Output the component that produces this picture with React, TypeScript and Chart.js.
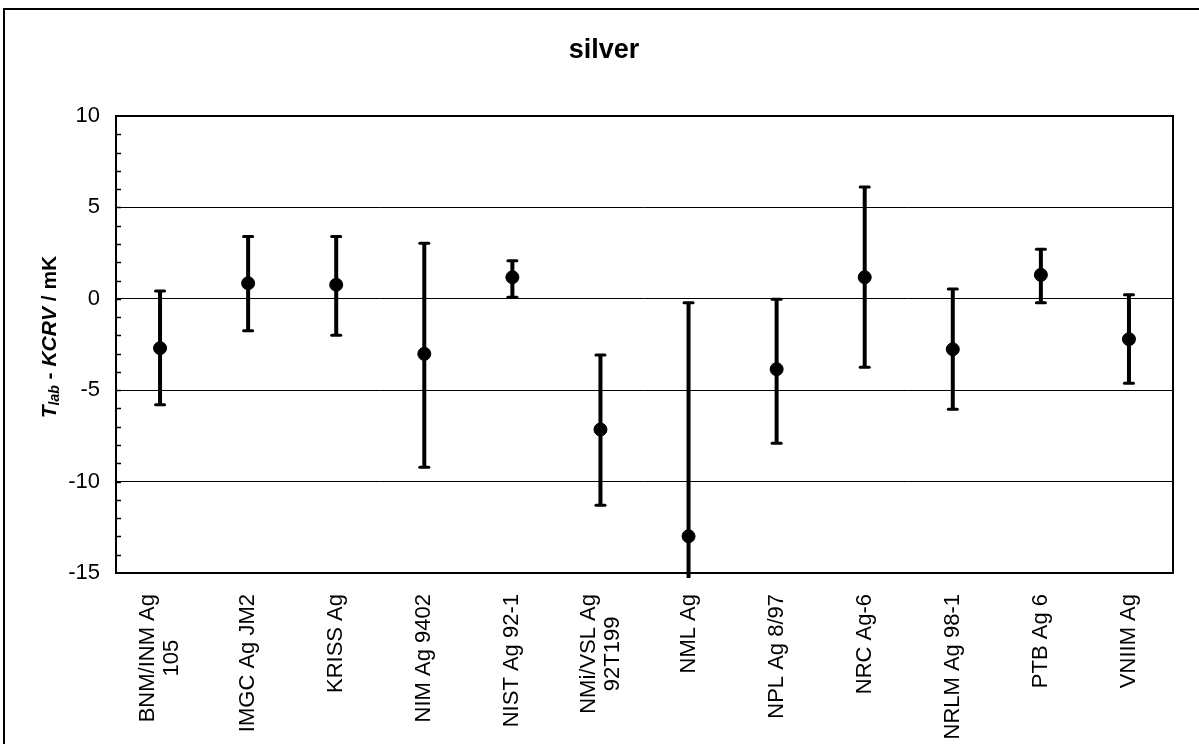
import React, { useEffect, useRef } from "react";
import { Chart, registerables } from "chart.js";

Chart.register(...registerables);

const categories: (string | string[])[] = [
  ["BNM/INM Ag", "105"],
  "IMGC Ag JM2",
  "KRISS Ag",
  "NIM Ag 9402",
  "NIST Ag 92-1",
  ["NMi/VSL Ag", "92T199"],
  "NML Ag",
  "NPL Ag 8/97",
  "NRC Ag-6",
  "NRLM Ag 98-1",
  "PTB Ag 6",
  "VNIIM Ag",
];
const values = [-2.7, 0.85, 0.77, -3.01, 1.18, -7.15, -12.99, -3.85, 1.18, -2.76, 1.31, -2.21];
const upper = [0.42, 3.41, 3.41, 3.04, 2.08, -3.08, -0.22, -0.02, 6.11, 0.53, 2.71, 0.22];
const lower = [-5.8, -1.75, -1.99, -9.21, 0.09, -11.29, -25.8, -7.9, -3.74, -6.04, -0.22, -4.62];
const yMin = -15;
const yMax = 10;
const yStep = 5;
const titleText = "silver";

const FONT = "Arial, 'Liberation Sans', sans-serif";

const customPlugin = {
  id: "custom",
  beforeDatasetsDraw(chart: any) {
    const ctx = chart.ctx;
    const x = chart.scales.x;
    const y = chart.scales.y;
    const area = chart.chartArea;
    ctx.save();
    ctx.beginPath();
    ctx.rect(area.left, area.top - 10, area.right - area.left, area.bottom - area.top + 15);
    ctx.clip();
    ctx.strokeStyle = "#000";
    for (let i = 0; i < values.length; i++) {
      const px = x.getPixelForValue(i);
      const pHi = y.getPixelForValue(upper[i]);
      const pLo = y.getPixelForValue(lower[i]);
      ctx.lineWidth = 4;
      ctx.beginPath();
      ctx.moveTo(px, pHi);
      ctx.lineTo(px, pLo);
      ctx.stroke();
      ctx.lineWidth = 3;
      ctx.lineCap = "round";
      for (const p of [pHi, pLo]) {
        if (p > area.bottom + 4) continue;
        ctx.beginPath();
        ctx.moveTo(px - 4.5, p);
        ctx.lineTo(px + 4.5, p);
        ctx.stroke();
      }
      ctx.lineCap = "butt";
    }
    ctx.restore();
  },
  afterDraw(chart: any) {
    const ctx = chart.ctx;
    const x = chart.scales.x;
    const y = chart.scales.y;
    const area = chart.chartArea;
    ctx.save();
    // plot border
    ctx.strokeStyle = "#000";
    ctx.lineWidth = 2;
    ctx.strokeRect(area.left, area.top, area.right - area.left, area.bottom - area.top);
    // minor ticks
    ctx.lineWidth = 1.5;
    for (let v = yMin + 1; v < yMax; v++) {
      const py = Math.round(y.getPixelForValue(v)) + 0.5;
      ctx.beginPath();
      ctx.moveTo(area.left, py);
      ctx.lineTo(area.left + 5, py);
      ctx.stroke();
    }
    // outer frame
    ctx.lineWidth = 2;
    ctx.beginPath();
    ctx.moveTo(4, 744);
    ctx.lineTo(4, 9);
    ctx.lineTo(1199, 9);
    ctx.stroke();
    // title
    ctx.fillStyle = "#000";
    ctx.font = `bold 27px ${FONT}`;
    ctx.textAlign = "center";
    ctx.textBaseline = "alphabetic";
    ctx.fillText(titleText, 604, 58);
    // x labels
    ctx.font = `22px ${FONT}`;
    const lineH = 24;
    for (let i = 0; i < categories.length; i++) {
      const lab = categories[i];
      const lines = Array.isArray(lab) ? lab : [lab];
      const px = x.getPixelForValue(i);
      const maxW = Math.max(...lines.map((l) => ctx.measureText(l).width));
      ctx.save();
      ctx.translate(px, 594);
      ctx.rotate(-Math.PI / 2);
      ctx.textAlign = "center";
      ctx.textBaseline = "middle";
      lines.forEach((l, k) => {
        const off = (k - (lines.length - 1) / 2) * lineH;
        ctx.fillText(l, -maxW / 2, off);
      });
      ctx.restore();
    }
    // y title
    const parts = [
      { t: "T", f: `italic bold 21px ${FONT}`, dy: 0 },
      { t: "lab", f: `italic bold 14px ${FONT}`, dy: 5 },
      { t: " - ", f: `bold 21px ${FONT}`, dy: 0 },
      { t: "KCRV", f: `italic bold 21px ${FONT}`, dy: 0 },
      { t: " / mK", f: `bold 21px ${FONT}`, dy: 0 },
    ];
    let total = 0;
    const widths = parts.map((p) => {
      ctx.font = p.f;
      const w = ctx.measureText(p.t).width;
      total += w;
      return w;
    });
    ctx.save();
    ctx.translate(50, 337);
    ctx.rotate(-Math.PI / 2);
    ctx.textAlign = "left";
    ctx.textBaseline = "middle";
    let cx = -total / 2;
    parts.forEach((p, k) => {
      ctx.font = p.f;
      ctx.fillText(p.t, cx, p.dy);
      cx += widths[k];
    });
    ctx.restore();
    ctx.restore();
  },
};

export default function App() {
  const ref = useRef<HTMLCanvasElement | null>(null);
  useEffect(() => {
    if (!ref.current) return;
    const chart = new Chart(ref.current, {
      type: "line",
      data: {
        labels: categories.map((c) => (Array.isArray(c) ? c.join(" ") : c)),
        datasets: [
          {
            data: values,
            showLine: false,
            pointRadius: 6.5,
            pointHoverRadius: 6.5,
            pointBackgroundColor: "#000",
            pointBorderColor: "#000",
            borderColor: "#000",
          },
        ],
      },
      options: {
        animation: false,
        responsive: false,
        events: [],
        layout: { padding: { top: 116, right: 26, left: 0, bottom: 0 } },
        plugins: { legend: { display: false }, tooltip: { enabled: false }, title: { display: false } },
        scales: {
          x: {
            type: "category",
            offset: true,
            grid: { display: false, drawTicks: false },
            border: { display: false },
            ticks: { display: false },
            afterFit: (s: any) => {
              s.height = 171;
            },
          },
          y: {
            min: yMin,
            max: yMax,
            grid: { color: "#000", lineWidth: 1, drawTicks: false },
            border: { display: false },
            ticks: {
              stepSize: yStep,
              color: "#000",
              padding: 16,
              font: { family: FONT, size: 22 },
            },
            afterFit: (s: any) => {
              s.width = 116;
            },
          },
        },
      },
      plugins: [customPlugin],
    });
    return () => chart.destroy();
  }, []);
  return (
    <div style={{ position: "fixed", left: 0, top: 0, width: 1199, height: 744, background: "#fff" }}>
      <canvas ref={ref} width={1199} height={744} style={{ display: "block" }} />
    </div>
  );
}
